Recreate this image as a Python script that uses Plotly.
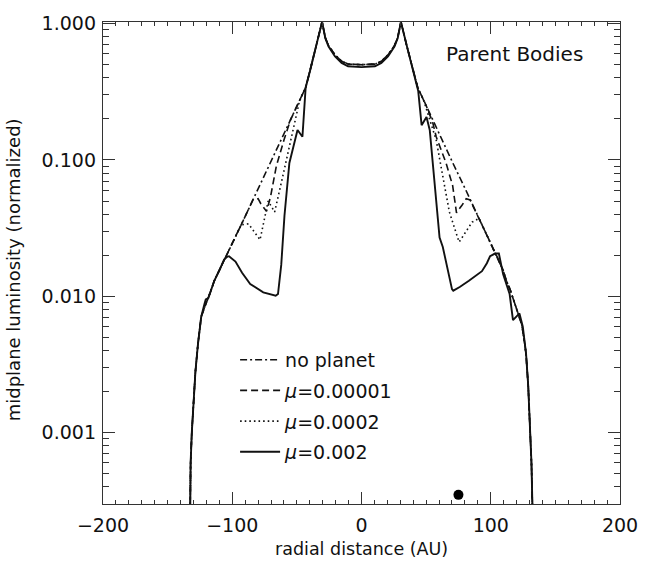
import plotly.graph_objects as go

# ---------------- data ----------------
# no planet (dash-dot)
x_noplanet = [-133, -132.7, -132.2, -131.3, -130, -128.5, -126.5, -124, -121, -119, -116.5, -113.9,
              -110, -105, -100, -90, -80, -70, -60, -50, -43.2, -40, -35, -30.5, -28, -25.5,
              -20.5, -15.4, -10.4, 0, 10.4, 15.4, 20.5, 25.5, 28, 30.5, 35, 40, 43.5, 50, 60,
              70, 80, 90, 100, 105.5, 109.6, 112.1, 115, 118, 121, 124, 126, 127.3, 129, 130.5,
              131.5, 132.2, 133]
y_noplanet = [0.0001, 0.0003, 0.0006, 0.001, 0.0018, 0.0028, 0.0045, 0.0071, 0.0085, 0.0094, 0.011, 0.013,
              0.0155, 0.0192, 0.0242, 0.0386, 0.0614, 0.0977, 0.156, 0.248, 0.34, 0.444, 0.69, 1.03, 0.79, 0.69,
              0.59, 0.53, 0.505, 0.50, 0.505, 0.53, 0.59, 0.69, 0.79, 1.03, 0.69, 0.444, 0.34, 0.251, 0.156,
              0.098, 0.0622, 0.039, 0.0245, 0.019, 0.0155, 0.013, 0.0112, 0.0092, 0.0075, 0.0062, 0.0047, 0.0038, 0.0022, 0.0011,
              0.0006, 0.0003, 0.0001]

# mu = 0.00001 (dashed)
x_mu1 = [-133, -132.7, -132.2, -131.3, -130, -128.5, -126.5, -124, -121, -119, -116.5, -113.9,
         -110, -105, -100, -90, -84, -80, -78, -73.5, -70.5, -65.9, -60, -55, -50, -43.2, -40, -35,
         -30.5, -28, -25.5, -20.5, -15.4, -10.4, 0, 10.4, 15.4, 20.5, 25.5, 28, 30.5, 35, 40, 43.5,
         50, 55, 57.8, 65.4, 70.5, 73.5, 78, 81, 84, 90, 100, 105.5, 109.6, 112.1, 115, 118, 121,
         124, 126, 127.3, 129, 130.5, 131.5, 132.2, 133]
y_mu1 = [0.0001, 0.0003, 0.0006, 0.001, 0.0018, 0.0028, 0.0045, 0.0071, 0.0085, 0.0094, 0.011, 0.013,
         0.0155, 0.0192, 0.0242, 0.0386, 0.051, 0.052, 0.048, 0.042, 0.053, 0.09, 0.14, 0.196, 0.248, 0.34, 0.444, 0.69,
         1.03, 0.79, 0.69, 0.59, 0.53, 0.505, 0.50, 0.505, 0.53, 0.59, 0.69, 0.79, 1.03, 0.69, 0.444, 0.34,
         0.251, 0.19, 0.148, 0.095, 0.065, 0.041, 0.047, 0.052, 0.051, 0.039, 0.0245, 0.019, 0.0155, 0.013, 0.0112, 0.0092, 0.0075,
         0.0062, 0.0047, 0.0038, 0.0022, 0.0011, 0.0006, 0.0003, 0.0001]

# mu = 0.0002 (dotted)
x_mu2 = [-133, -132.7, -132.2, -131.3, -130, -128.5, -126.5, -124, -121, -119, -116.5, -113.9,
         -110, -105, -100, -93, -87.4, -78.5, -72.2, -67.2, -60, -53.3, -48, -43.2, -40, -35,
         -30.5, -28, -25.5, -20.5, -15.4, -10.4, 0, 10.4, 15.4, 20.5, 25.5, 28, 30.5, 35, 40, 43.5,
         48, 57.8, 62.9, 68, 75.5, 85.6, 91, 100, 105.5, 109.6, 112.1, 115, 118, 121,
         124, 126, 127.3, 129, 130.5, 131.5, 132.2, 133]
y_mu2 = [0.0001, 0.0003, 0.0006, 0.001, 0.0018, 0.0028, 0.0045, 0.0071, 0.0085, 0.0094, 0.011, 0.013,
         0.0155, 0.0192, 0.0242, 0.0335, 0.034, 0.026, 0.050, 0.0415, 0.083, 0.157, 0.27, 0.34, 0.444, 0.69,
         1.03, 0.79, 0.69, 0.59, 0.53, 0.505, 0.50, 0.505, 0.53, 0.59, 0.69, 0.79, 1.03, 0.69, 0.444, 0.34,
         0.275, 0.14, 0.076, 0.0415, 0.025, 0.035, 0.0373, 0.0245, 0.019, 0.0155, 0.013, 0.0112, 0.0092, 0.0075,
         0.0062, 0.0047, 0.0038, 0.0022, 0.0011, 0.0006, 0.0003, 0.0001]

# mu = 0.002 (solid)
x_mu3 = [-133, -132.7, -132.2, -131.3, -130, -128.5, -126.5, -124, -121.5, -120.5, -118.5, -113.9,
         -110, -106.3, -104, -102.5, -97.5, -92.4, -86.1, -76, -66.4, -64.6, -62.1, -59.6, -55.8,
         -49.5, -45.7, -43.2, -40, -35, -30.5, -28, -25.5, -20.5, -15.4, -10.4, 0, 10.4, 15.4, 20.5,
         25.5, 28, 30.5, 35, 40, 43.9, 46.5, 50.3, 52.8, 55.3, 59.1, 60.4, 62.9, 66.7, 70, 71, 76,
         83.1, 88, 93.2, 97, 99.5, 103.3, 106.3, 109.6, 114.6, 117.2, 122.2, 124.8, 127.3, 129,
         130.5, 131.5, 132.2, 133]
y_mu3 = [0.0001, 0.0003, 0.0006, 0.001, 0.0018, 0.0028, 0.0045, 0.0071, 0.0088, 0.0095, 0.0097, 0.013,
         0.0155, 0.0186, 0.0195, 0.0197, 0.018, 0.0149, 0.0123, 0.0107, 0.0101, 0.0104, 0.017, 0.039, 0.095,
         0.166, 0.148, 0.34, 0.444, 0.69, 1.03, 0.78, 0.68, 0.575, 0.515, 0.487, 0.48, 0.487, 0.515, 0.575,
         0.68, 0.78, 1.03, 0.69, 0.444, 0.32, 0.18, 0.207, 0.166, 0.095, 0.039, 0.027, 0.023, 0.0153, 0.0113, 0.011, 0.0117,
         0.013, 0.014, 0.0153, 0.0175, 0.0197, 0.0206, 0.0206, 0.0145, 0.0104, 0.0067, 0.0075, 0.006, 0.0038, 0.0022,
         0.0011, 0.0006, 0.0003, 0.0001]

# planet position marker
planet_x = [75]
planet_y = [0.00035]

series_names = ["no planet", "<i>\u03bc</i>=0.00001", "<i>\u03bc</i>=0.0002", "<i>\u03bc</i>=0.002"]

x_tickvals = [-200, -100, 0, 100, 200]
y_tickvals = [0.001, 0.01, 0.1, 1.0]
y_ticktext = ["0.001", "0.010", "0.100", "1.000"]
y_minor = [m * 10 ** e for e in (-4, -3, -2, -1) for m in range(2, 10) if 0.0003 <= m * 10 ** e <= 1.04]

# ---------------- figure ----------------
FONT = "DejaVu Sans"
INK = "#111111"
AX = "#333333"

fig = go.Figure()
styles = [
    dict(dash="7px,3px,2px,3px", width=1.6),
    dict(dash="7px,4px", width=1.6),
    dict(dash="1.6px,3px", width=1.6),
    dict(dash="solid", width=1.9),
]
data = [(x_noplanet, y_noplanet), (x_mu1, y_mu1), (x_mu2, y_mu2), (x_mu3, y_mu3)]
for i, ((xs, ys), name, st) in enumerate(zip(data, series_names, styles)):
    fig.add_trace(go.Scatter(
        x=xs, y=ys, mode="lines", name=name, legendgroup=f"g{i}",
        line=dict(color=INK, width=st["width"], dash=st["dash"]),
        hoverinfo="skip",
    ))

fig.add_trace(go.Scatter(
    x=planet_x, y=planet_y, mode="markers", showlegend=False,
    marker=dict(color="black", size=10), hoverinfo="skip",
))

axis_common = dict(
    showline=True, linecolor=AX, linewidth=1.2, mirror="allticks",
    ticks="inside", tickcolor=AX, tickwidth=1,
    showgrid=False, zeroline=False,
)

fig.update_xaxes(
    range=[-200, 200], tickmode="array", tickvals=x_tickvals, ticklen=12,
    ticklabelstandoff=4, tickfont=dict(family=FONT, size=19, color=INK),
    minor=dict(dtick=10, ticks="inside", ticklen=4, tickcolor=AX, showgrid=False),
    **axis_common,
)
fig.update_yaxes(
    type="log", range=[-3.523, 0.012], tickmode="array", tickvals=y_tickvals, ticktext=y_ticktext,
    ticklen=12, ticklabelstandoff=2, tickfont=dict(family=FONT, size=19, color=INK),
    minor=dict(tickmode="array", tickvals=y_minor, ticks="inside", ticklen=6, tickcolor=AX,
               showgrid=False),
    **axis_common,
)

# axis titles
fig.add_annotation(
    xref="paper", yref="paper", x=0.5, y=-0.0927, xanchor="center", yanchor="middle",
    text="radial distance (AU)", showarrow=False, font=dict(family=FONT, size=17.5, color=INK),
)
fig.add_annotation(
    xref="paper", yref="paper", x=-0.174, y=0.485, xanchor="center", yanchor="middle",
    text="midplane luminosity (normalized)", textangle=-90, showarrow=False,
    font=dict(family=FONT, size=18, color=INK),
)

fig.add_annotation(
    xref="paper", yref="paper", x=0.795, y=0.934, xanchor="center", yanchor="middle",
    text="Parent Bodies", showarrow=False, font=dict(family=FONT, size=20, color=INK),
)

fig.update_layout(
    width=650, height=562, autosize=False,
    margin=dict(l=103, r=19, t=13, b=58),
    paper_bgcolor="white", plot_bgcolor="white",
    showlegend=True, hovermode=False,
    legend=dict(
        x=0.2555, y=0.3385, xanchor="left", yanchor="top",
        bgcolor="rgba(0,0,0,0)", borderwidth=0,
        font=dict(family=FONT, size=19, color=INK),
        tracegroupgap=3, itemwidth=40, traceorder="grouped",
    ),
)

# remove the browser's default 8px body margin so the figure sits at the page origin
fig.write_html(
    "out.html",
    config={"displayModeBar": False, "staticPlot": True},
    post_script="document.body.style.margin='0';document.body.style.overflow='hidden';",
)
